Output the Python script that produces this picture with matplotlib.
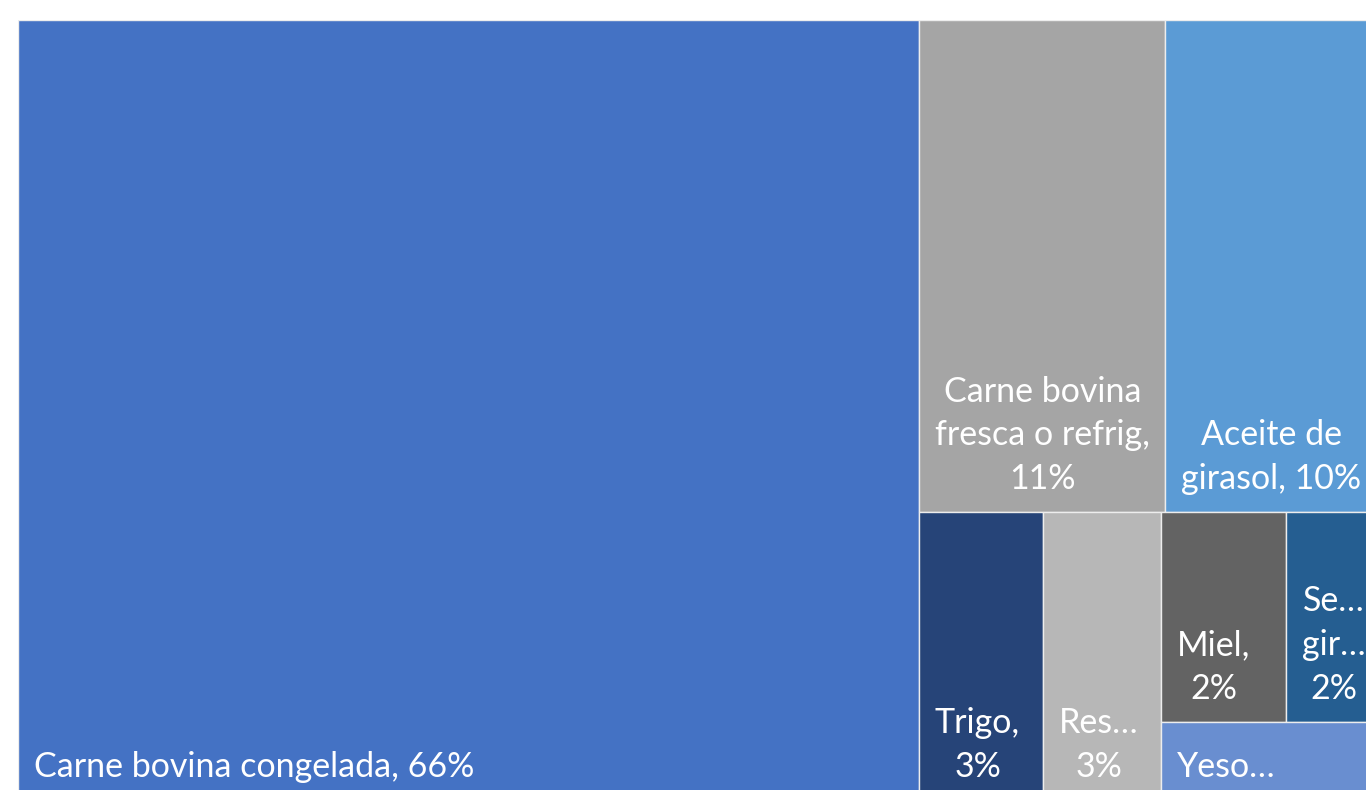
import matplotlib
matplotlib.use("Agg")
import matplotlib.pyplot as plt
from matplotlib.patches import Rectangle

# ---- data (percent share) ----
label_names = ["Carne bovina congelada, ", "Carne bovina\nfresca o refrig,\n", "Aceite de\ngirasol, ",
               "Trigo,\n", "Res…\n", "Miel,\n", "Se…\ngir…\n", "Yeso…"]
values = [66.0, 11.37, 10.07, 3.35, 3.19, 2.47, 1.91, 1.63]
show_pct = [True, True, True, True, True, True, True, False]
colors = ["#4472C4", "#A5A5A5", "#5B9BD5", "#264478", "#B7B7B7", "#636363", "#255E91", "#698ED0"]
strip_sizes = [1, 2, 1, 1, 2, 1]   # number of items in each strip of the layout

# ---- figure ----
W_FIG, H_FIG = 1366, 790
fig = plt.figure(figsize=(W_FIG / 100, H_FIG / 100), dpi=100)
left_px, top_px, tw, th = 18, 20, 1365, 780
ax = fig.add_axes([left_px / W_FIG, (H_FIG - top_px - th) / H_FIG, tw / W_FIG, th / H_FIG])
ax.set_xlim(0, tw)
ax.set_ylim(th, 0)
ax.axis("off")


def layout(vals, sizes, x, y, w, h):
    total = sum(vals)
    scale = w * h / total
    rects = []
    i = 0
    for n in sizes:
        group = vals[i:i + n]
        area = sum(group) * scale
        if w >= h:  # vertical strip on the left
            sw = area / h
            yy = y
            for v in group:
                hh = v * scale / sw
                rects.append((x, yy, sw, hh))
                yy += hh
            x += sw
            w -= sw
        else:  # horizontal strip on top
            sh = area / w
            xx = x
            for v in group:
                ww = v * scale / sh
                rects.append((xx, y, ww, sh))
                xx += ww
            y += sh
            h -= sh
        i += n
    return rects


rects = layout(values, strip_sizes, 0, 0, tw, th)
total = sum(values)
for (x, y, w, h), name, v, sp, c in zip(rects, label_names, values, show_pct, colors):
    ax.add_patch(Rectangle((x, y), w, h, facecolor=c, edgecolor="#EDEDED", linewidth=1.0))
    txt = name + (f"{round(v / total * 100):d}%" if sp else "")
    ax.text(x + 16, y + h - 17, txt, ha="left", va="bottom", multialignment="center",
            color="white", fontsize=24.5, family=["Lato", "DejaVu Sans"], linespacing=1.45)

fig.savefig("out.png", dpi=100, facecolor="white")
